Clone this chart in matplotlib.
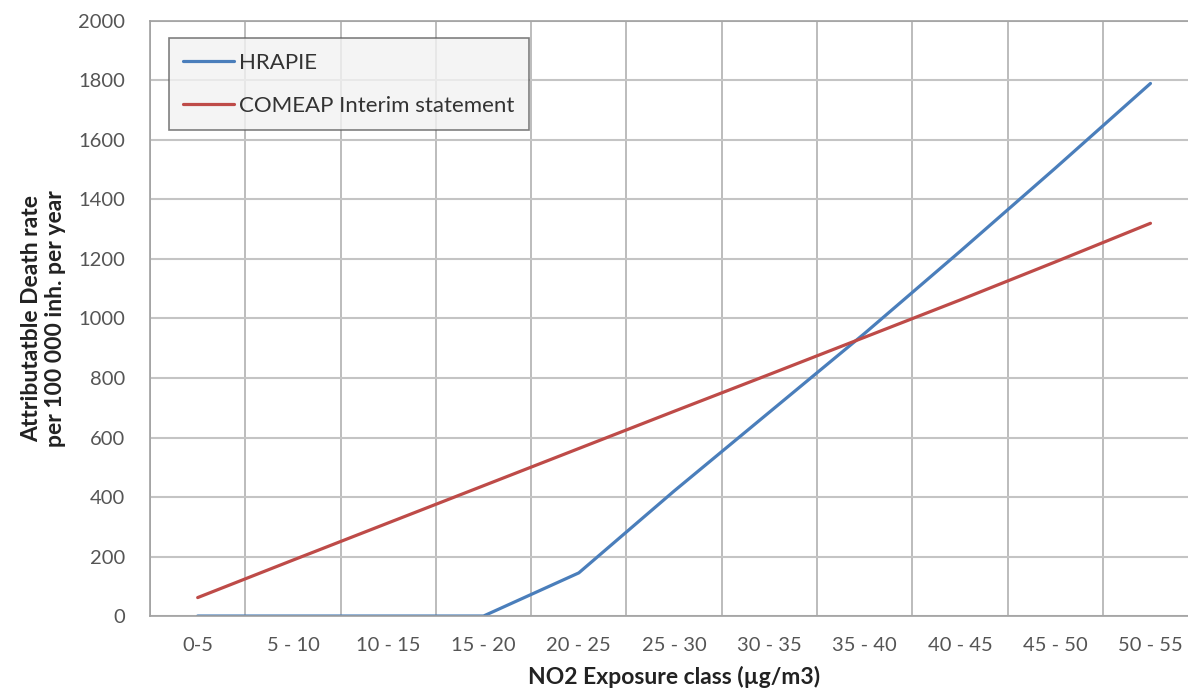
import matplotlib.pyplot as plt
import numpy as np

# categories and values
classes = ["0-5", "5 - 10", "10 - 15", "15 - 20", "20 - 25", "25 - 30",
           "30 - 35", "35 - 40", "40 - 45", "45 - 50", "50 - 55"]
hrapie = [0, 0, 0, 0, 145, 420, 685, 950, 1225, 1505, 1790]
comeap = [62, 188, 313, 438, 563, 688, 812, 937, 1062, 1190, 1320]
y_ticks = [0, 200, 400, 600, 800, 1000, 1200, 1400, 1600, 1800, 2000]

plt.rcParams['font.family'] = ['Lato', 'DejaVu Sans']

fig = plt.figure(figsize=(11.88, 6.99), dpi=100)
ax = fig.add_axes([0.1263, 0.1187, 0.8822, 0.8513])

x = np.arange(len(classes))
ax.plot(x, hrapie, color="#4a7ebb", lw=2.3, label="HRAPIE", solid_capstyle="round")
ax.plot(x, comeap, color="#be4b48", lw=2.3, label="COMEAP Interim statement",
        solid_capstyle="round")

ax.set_xlim(-0.5, len(classes) - 0.5)
ax.set_ylim(0, 2000)
ax.set_yticks(y_ticks)
ax.set_xticks(x)
ax.set_xticklabels(classes)

# vertical grid on category boundaries, horizontal on major ticks
ax.set_xticks(np.arange(-0.5, len(classes), 1), minor=True)
ax.grid(True, which="minor", axis="x", color="#b0b0b0", lw=1.2)
ax.grid(True, which="major", axis="y", color="#c4c4c4", lw=1.5)
ax.set_axisbelow(True)
ax.tick_params(which="both", length=0)
ax.tick_params(axis="y", pad=18, labelsize=14.5, labelcolor="#555555")
ax.tick_params(axis="x", pad=15, labelsize=14.5, labelcolor="#555555")

for s in ax.spines.values():
    s.set_color("#a0a0a0")
    s.set_linewidth(1.2)

ax.set_xlabel("NO2 Exposure class (µg/m3)", fontsize=16.5, fontweight="bold",
              color="#222222", labelpad=9)
ax.set_ylabel("Attributatble Death rate\nper 100 000 inh. per year", fontsize=16.5,
              fontweight="bold", color="#222222", labelpad=9, linespacing=1.15)

leg = ax.legend(loc="upper left", bbox_to_anchor=(0.018, 0.971), fontsize=16,
                frameon=True, fancybox=False, facecolor="#f2f2f2",
                edgecolor="#606060", handlelength=2.3, handletextpad=0.2,
                labelspacing=1.05, borderpad=0.65, borderaxespad=0)
leg.get_frame().set_linewidth(1.2)
for t in leg.get_texts():
    t.set_color("#333333")

fig.savefig("out.png", dpi=100, facecolor="white")
